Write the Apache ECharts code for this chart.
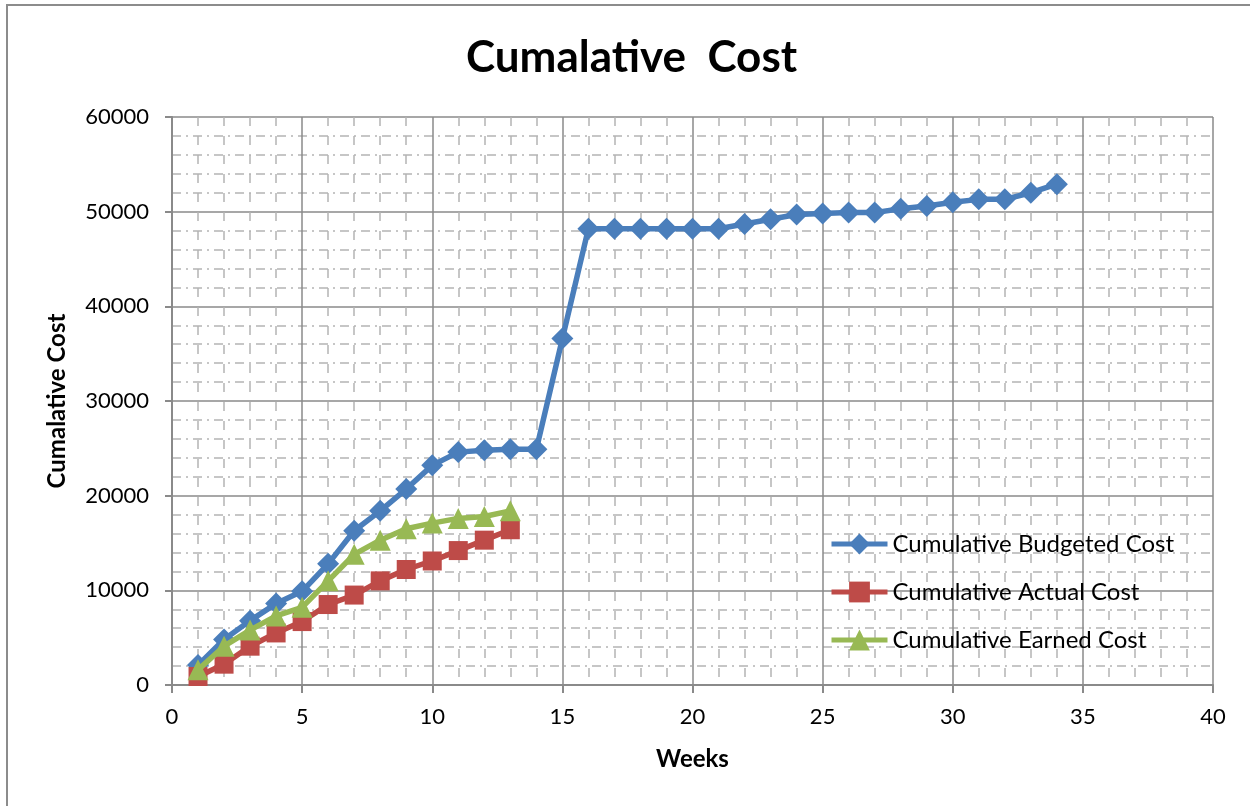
<!DOCTYPE html>
<html>
<head>
<meta charset="utf-8">
<script src="https://cdn.jsdelivr.net/npm/echarts@6/dist/echarts.min.js"></script>
<style>
  html, body { margin: 0; padding: 0; background: #fff; }
  #chart { width: 1250px; height: 806px; }
</style>
</head>
<body>
<div id="chart"></div>
<script>
// Weekly cumulative cost figures
const budgetWeeks = [1,2,3,4,5,6,7,8,9,10,11,12,13,14,15,16,17,18,19,20,21,22,23,24,25,26,27,28,29,30,31,32,33,34];
const budgetedCost = [2100,4800,6800,8600,9900,12800,16300,18400,20700,23200,24600,24800,24900,24900,36600,48200,48200,48200,48200,48200,48200,48700,49200,49700,49800,49900,49900,50300,50600,51000,51300,51300,52000,52900];
const progressWeeks = [1,2,3,4,5,6,7,8,9,10,11,12,13];
const actualCost = [900,2200,4100,5500,6700,8500,9500,11000,12200,13100,14200,15300,16400];
const earnedCost = [1600,4100,5800,7300,8200,11000,13800,15300,16500,17100,17600,17800,18400];

const seriesNames = ['Cumulative Budgeted Cost', 'Cumulative Actual Cost', 'Cumulative Earned Cost'];
const xTicks = { min: 0, max: 40, step: 5 };
const yTicks = { min: 0, max: 60000, step: 10000 };

const pairs = (xs, ys) => xs.map((x, i) => [x, ys[i]]);

const FONT = 'Lato, "Open Sans", sans-serif';
const chart = echarts.init(document.getElementById('chart'), null, { renderer: 'canvas' });

chart.setOption({
  backgroundColor: '#ffffff',
  animation: false,
  title: {
    text: 'Cumalative  Cost',
    left: 461,
    top: 31,
    textStyle: { fontFamily: FONT, fontSize: 44, fontWeight: 'bold', color: '#000' }
  },
  graphic: [{
    type: 'rect',
    shape: { x: 7, y: 5, width: 1400, height: 1000 },
    style: { fill: 'none', stroke: '#8c8c8c', lineWidth: 2 },
    silent: true, z: -10
  }],
  grid: { left: 172, right: 37, top: 117, bottom: 121, containLabel: false },
  legend: {
    orient: 'vertical',
    left: 824,
    top: 527,
    itemWidth: 56,
    itemHeight: 26,
    itemGap: 24,
    lineStyle: { width: 5 },
    textStyle: { fontFamily: FONT, fontSize: 24, color: '#000', padding: [0, 0, 0, 0] },
    data: seriesNames
  },
  xAxis: {
    type: 'value',
    min: xTicks.min, max: xTicks.max, interval: xTicks.step,
    name: 'Weeks',
    nameLocation: 'middle',
    nameGap: 62,
    nameTextStyle: { fontFamily: FONT, fontSize: 24, fontWeight: 'bold', color: '#000' },
    axisLine: { show: true, onZero: false, lineStyle: { color: '#8a8a8a', width: 2 } },
    axisTick: { show: true, length: 8, lineStyle: { color: '#8a8a8a', width: 2 } },
    axisLabel: { fontFamily: FONT, fontSize: 22, color: '#000', margin: 21 },
    splitLine: { show: true, lineStyle: { color: '#8a8a8a', width: 1.5 } },
    minorTick: { show: false, splitNumber: 5 },
    minorSplitLine: { show: true, lineStyle: { color: '#b4b4b4', width: 1.5, type: [9, 10] } }
  },
  yAxis: {
    type: 'value',
    min: yTicks.min, max: yTicks.max, interval: yTicks.step,
    name: 'Cumalative Cost',
    nameLocation: 'middle',
    nameGap: 103,
    nameRotate: 90,
    nameTextStyle: { fontFamily: FONT, fontSize: 24, fontWeight: 'bold', color: '#000' },
    axisLine: { show: true, lineStyle: { color: '#8a8a8a', width: 2 } },
    axisTick: { show: true, length: 7, lineStyle: { color: '#8a8a8a', width: 2 } },
    axisLabel: { fontFamily: FONT, fontSize: 22, color: '#000', margin: 23, formatter: v => String(v) },
    splitLine: { show: true, lineStyle: { color: '#8a8a8a', width: 1.5 } },
    minorTick: { show: false, splitNumber: 5 },
    minorSplitLine: { show: true, lineStyle: { color: '#b4b4b4', width: 1.5, type: [9, 5, 2, 5] } }
  },
  series: [
    {
      name: seriesNames[0],
      type: 'line',
      data: pairs(budgetWeeks, budgetedCost),
      symbol: 'diamond',
      symbolSize: 22,
      lineStyle: { color: '#4a7ebb', width: 5.5 },
      itemStyle: { color: '#4a7ebb' },
      z: 3
    },
    {
      name: seriesNames[1],
      type: 'line',
      data: pairs(progressWeeks, actualCost),
      symbol: 'rect',
      symbolSize: 19,
      lineStyle: { color: '#be4b48', width: 5.5 },
      itemStyle: { color: '#be4b48' },
      z: 4
    },
    {
      name: seriesNames[2],
      type: 'line',
      data: pairs(progressWeeks, earnedCost),
      symbol: 'triangle',
      symbolSize: 21,
      lineStyle: { color: '#98b954', width: 5.5 },
      itemStyle: { color: '#98b954' },
      z: 5
    }
  ]
});
</script>
</body>
</html>
